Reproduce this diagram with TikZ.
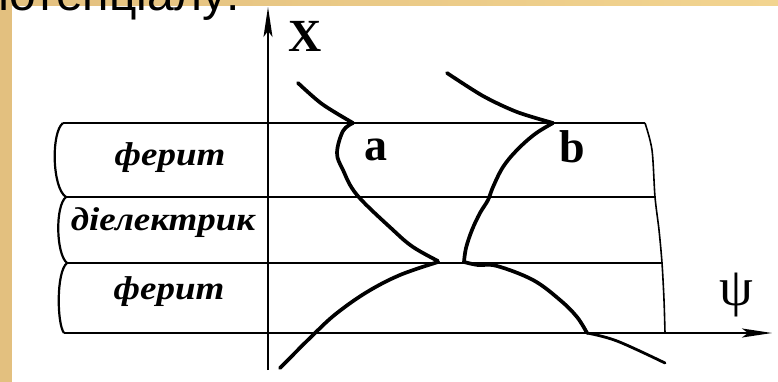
\documentclass[tikz,border=0pt]{standalone}
\usepackage{fontspec}
\setmainfont{Liberation Serif}
\newfontfamily\sansfam{Liberation Sans}
\newfontfamily\widefam[FakeStretch=1.12]{Liberation Serif}
\usetikzlibrary{arrows.meta}
\definecolor{tanA}{HTML}{E3C07F}
\definecolor{tanB}{HTML}{F2D490}
\begin{document}
\begin{tikzpicture}[x=1pt,y=-1pt,
  boxline/.style={line width=2.2pt},
  edgeline/.style={line width=1.6pt},
  axisline/.style={line width=1.8pt},
  curve/.style={line width=3.7pt, line cap=round, line join=round},
  lbl/.style={font=\widefam\fontsize{33}{33}\selectfont\bfseries\itshape, inner sep=0pt},
  letter/.style={font=\fontsize{46}{46}\selectfont\bfseries, inner sep=0pt},
  tip/.style={-{Stealth[length=30pt,width=9pt,inset=6pt]}}]
\useasboundingbox (0,0) rectangle (778,382);
\fill[white] (0,0) rectangle (778,382);
\shade[left color=tanA, right color=tanB] (0,0) rectangle (778,6);
\fill[tanA] (0,0) rectangle (12,382);
\node[anchor=base west, inner sep=0pt, font=\sansfam\fontsize{48}{48}\selectfont] (title) at (-17,11) {потенціалу:};

% box corners
\coordinate (L1) at (63,123); \coordinate (R1) at (645,123);
\coordinate (L2) at (66,197); \coordinate (R2) at (655,197);
\coordinate (L3) at (67,263); \coordinate (R3) at (662,263);
\coordinate (L4) at (64,333); \coordinate (R4) at (665,333);
\coordinate (xtip) at (772,333);
\coordinate (ybot) at (268,370); \coordinate (ytop) at (268,7);

\draw[boxline] (L1) -- (R1);
\draw[boxline] (L2) -- (R2);
\draw[boxline] (L3) -- (R3);
\draw[boxline] (L1) .. controls (51,132) and (52,188) .. (L2)
  .. controls (55,206) and (56,254) .. (L3)
  .. controls (56,272) and (57,324) .. (L4);
\draw[edgeline] plot[smooth] coordinates {(645,123) (652,150) (655,197) (659,230) (662,263) (664,300) (665,333)};

\draw[axisline, tip] (ybot) -- (ytop);
\draw[boxline, tip] (L4) -- (xtip);

% curves
\draw[curve] plot[smooth, tension=0.5] coordinates {(298,83) (322,104) (353,123)};
\draw[curve] plot[smooth, tension=0.6] coordinates {(353,123) (343,131) (337,153) (343,170) (357,195) (393,230) (413,247) (438,261)};
\draw[curve] plot[smooth, tension=0.5] coordinates {(447,73) (483,96) (517,112) (553,123)};
\draw[curve] plot[smooth, tension=0.6] coordinates {(553,123) (535,134) (517,150) (503,167) (493,187) (488,200) (480,213) (472,230) (466,248) (464,262)};
\draw[curve] plot[smooth, tension=0.6] coordinates {(280,368) (315,333) (337,313) (367,292) (400,275) (438,262)};
\draw[curve] plot[smooth, tension=0.6] coordinates {(464,262) (478,265) (497,266) (533,280) (560,300) (577,317) (587,333)};
\draw[curve, line width=2.8pt] plot[smooth, tension=0.6] coordinates {(587,333) (617,341) (665,363)};

% labels
\node[lbl] (f1) at (170,158) {ферит};
\node[lbl] (d1) at (163,223) {діелектрик};
\node[lbl] (f2) at (169,292) {ферит};
\node[letter] (X) at (305,36) {X};
\node[letter] (a) at (376,150) {a};
\node[letter] (b) at (572,147) {b};
\node[inner sep=0pt, font=\fontsize{54}{54}\selectfont] (psi) at (736,295) {ψ};
\end{tikzpicture}
\end{document}
